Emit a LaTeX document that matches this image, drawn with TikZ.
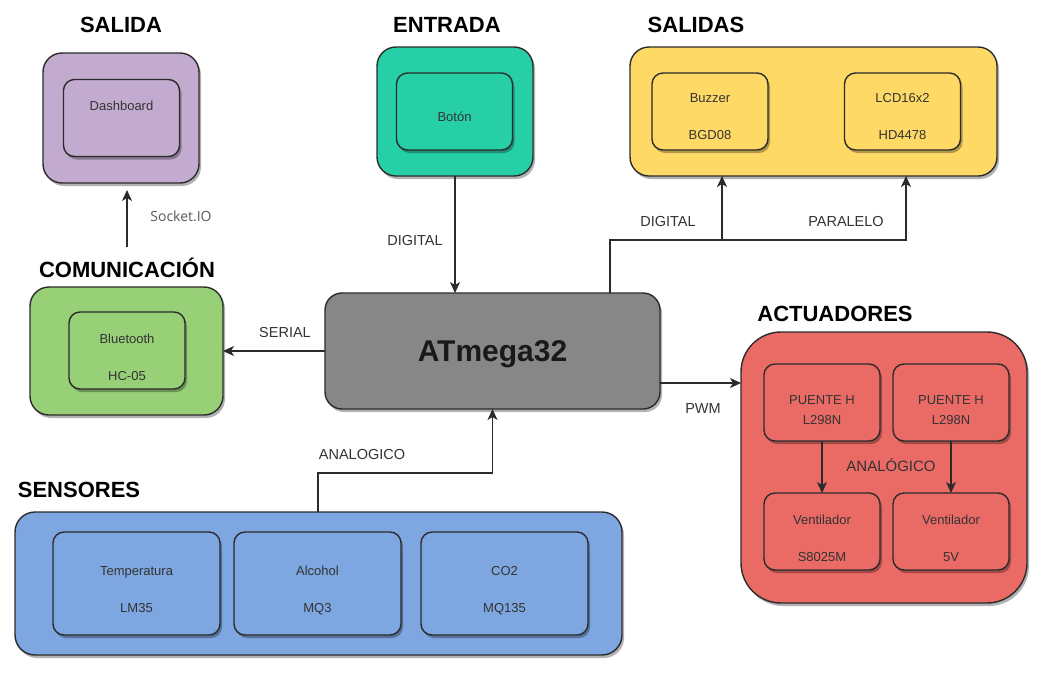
\documentclass[tikz,border=0pt]{standalone}
\usepackage{fontspec}
\setmainfont{Liberation Sans}
\newfontfamily\socketfont{Open Sans}
\usetikzlibrary{arrows.meta,calc,shadows}

\definecolor{morado}{HTML}{C3ABD0}
\definecolor{turquesa}{HTML}{27CFA7}
\definecolor{amarillo}{HTML}{FFD966}
\definecolor{verde}{HTML}{97D077}
\definecolor{gris}{HTML}{878787}
\definecolor{azul}{HTML}{7EA6E0}
\definecolor{rojo}{HTML}{EA6B66}
\definecolor{borde}{HTML}{2B2B2B}
\definecolor{texto}{HTML}{333333}

\begin{document}
\begin{tikzpicture}[x=1pt, y=-1pt,
  caja/.style={draw=borde, line width=1.4pt, rounded corners=19pt, inner sep=0pt, outer sep=0pt,
    drop shadow={shadow xshift=2pt, shadow yshift=-3pt, opacity=0.3, fill=black}},
  interna/.style={caja, rounded corners=11pt, minimum width=116pt, minimum height=77pt,
    font=\fontsize{13}{37.5}\selectfont, text=texto, align=center, text height=58pt, text depth=0pt},
  titulo/.style={font=\fontsize{22}{26}\selectfont\bfseries, anchor=base, inner sep=0pt},
  etiqueta/.style={font=\fontsize{14.5}{17}\selectfont, text=texto, anchor=base, inner sep=0pt},
  flecha/.style={draw=borde, line width=1.1pt, -{Stealth[length=11pt,width=10pt,inset=3pt]}}]

  \useasboundingbox (0,0) rectangle (1043,673);

  % Salida
  \node[caja, fill=morado, minimum width=156pt, minimum height=130pt] (salida) at (121,118) {};
  \node[interna, fill=morado, text height=9pt, text depth=24pt] (dash) at (121.5,118) {Dashboard};
  \node[titulo] (tsalida) at (121,32) {SALIDA};

  % Entrada
  \node[caja, fill=turquesa, minimum width=156pt, minimum height=129pt] (entrada) at (455,111.5) {};
  \node[interna, fill=turquesa, text height=20pt, text depth=0pt] (boton) at (454.5,111.5) {Botón};
  \node[titulo] (tentrada) at (447,32) {ENTRADA};

  % Salidas
  \node[caja, fill=amarillo, minimum width=367pt, minimum height=129pt] (salidas) at (813.5,111.5) {};
  \node[interna, fill=amarillo, text height=56pt] (buzzer) at (710,111.5) {Buzzer\\BGD08};
  \node[interna, fill=amarillo, text height=56pt] (lcd) at (902.5,111.5) {LCD16x2\\HD4478};
  \node[titulo] (tsalidas) at (696,32) {SALIDAS};

  % Comunicacion
  \node[caja, fill=verde, minimum width=193pt, minimum height=128pt] (comm) at (126.5,351) {};
  \node[interna, fill=verde, text height=60pt] (bt) at (127,350.5) {Bluetooth\\HC-05};
  \node[titulo] (tcomm) at (127,277) {COMUNICACIÓN};

  % Microcontrolador
  \node[caja, fill=gris, rounded corners=17pt, minimum width=335pt, minimum height=116pt,
    font=\fontsize{30}{35}\selectfont\bfseries, text=black!90, text depth=0pt] (atmega) at (492.5,351) {ATmega32};

  % Actuadores
  \node[caja, fill=rojo, rounded corners=40pt, minimum width=286pt, minimum height=271pt] (act) at (884,467.5) {};
  \node[interna, fill=rojo, font=\fontsize{13}{20}\selectfont, text height=44pt] (pte1) at (822,402.5) {PUENTE H\\L298N};
  \node[interna, fill=rojo, font=\fontsize{13}{20}\selectfont, text height=44pt] (pte2) at (951,402.5) {PUENTE H\\L298N};
  \node[interna, fill=rojo, text height=60pt] (vent1) at (822,531.5) {Ventilador\\S8025M};
  \node[interna, fill=rojo, text height=60pt] (vent2) at (951,531.5) {Ventilador\\5V};
  \node[titulo] (tact) at (835,321) {ACTUADORES};

  % Sensores
  \node[caja, fill=azul, rounded corners=20pt, minimum width=607pt, minimum height=143pt] (sens) at (318.5,583.5) {};
  \node[interna, fill=azul, minimum width=167pt, minimum height=103pt] (temp) at (136.5,583.5) {Temperatura\\LM35};
  \node[interna, fill=azul, minimum width=167pt, minimum height=103pt] (alc) at (317.5,583.5) {Alcohol\\MQ3};
  \node[interna, fill=azul, minimum width=167pt, minimum height=103pt] (co2) at (504.5,583.5) {CO2\\MQ135};
  \node[titulo] (tsens) at (79,497) {SENSORES};

  % Conexiones
  \draw[flecha, shorten <=10pt, shorten >=7pt] (tcomm.north) -- (tcomm.north |- salida.south);
  \draw[flecha] (entrada.south) -- (entrada.south |- atmega.north);
  \draw[flecha] (atmega.west) -- (comm.east);
  \draw[flecha] ([yshift=-32pt]atmega.east) -- ([yshift=-32pt]atmega.east -| act.west);

  \coordinate (bif) at (610,240);
  \coordinate (xbuz) at (722,240);
  \coordinate (xlcd) at (906,240);
  \draw[flecha] (atmega.north -| bif) -- (bif) -- (xlcd) -- (xlcd |- salidas.south);
  \draw[flecha] (xbuz) -- (xbuz |- salidas.south);

  \coordinate (codo) at (318,473);
  \draw[flecha] (sens.north -| codo) -- (codo) -| (atmega.south);

  \draw[flecha] (pte1.south) -- (vent1.north);
  \draw[flecha] (pte2.south) -- (vent2.north);

  % Etiquetas
  \node[etiqueta, font=\socketfont\fontsize{14}{17}\selectfont, text=black!65] (lsocket) at (181,221) {Socket.IO};
  \node[etiqueta] (ldig1) at (415,245) {DIGITAL};
  \node[etiqueta] (lserial) at (285,337) {SERIAL};
  \node[etiqueta] (ldig2) at (668,226) {DIGITAL};
  \node[etiqueta] (lpar) at (846,226) {PARALELO};
  \node[etiqueta] (lpwm) at (703,413) {PWM};
  \node[etiqueta] (lanalog) at (362,459) {ANALOGICO};
  \node[etiqueta, font=\fontsize{15}{18}\selectfont] (lanalog2) at (891,471.5) {ANALÓGICO};
\end{tikzpicture}
\end{document}
